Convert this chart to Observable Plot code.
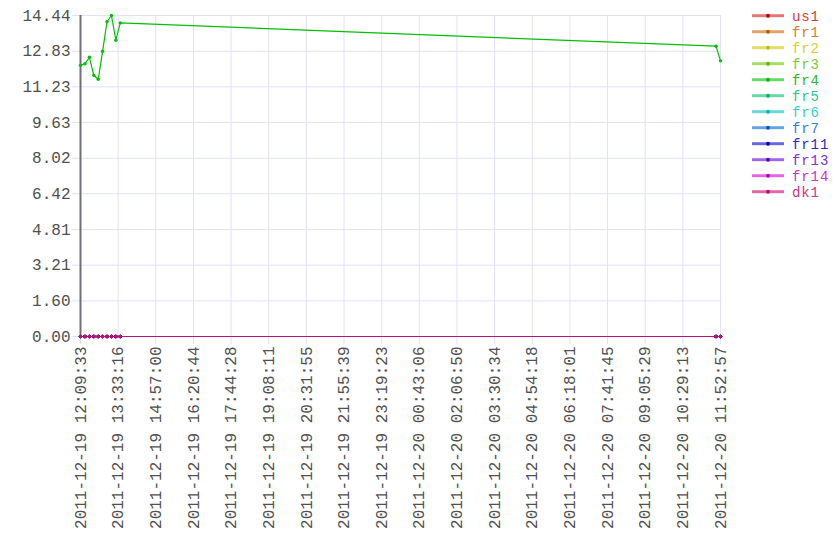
<!DOCTYPE html>
<html>
<head>
<meta charset="utf-8">
<script src="https://cdn.jsdelivr.net/npm/d3@7"></script>
<script src="https://cdn.jsdelivr.net/npm/@observablehq/plot@0.6"></script>
<style>
  html, body { margin: 0; padding: 0; background: #fff; }
  #wrap { position: relative; width: 840px; height: 560px; overflow: hidden; }
  #legend { position: absolute; left: 0; top: 0; }
</style>
</head>
<body>
<div id="wrap"></div>
<script>
// ---- data ----
const times = [
  "2011-12-19 12:09:33", "2011-12-19 12:19:30", "2011-12-19 12:29:20",
  "2011-12-19 12:39:10", "2011-12-19 12:49:00", "2011-12-19 12:58:40",
  "2011-12-19 13:08:30", "2011-12-19 13:18:20", "2011-12-19 13:28:10",
  "2011-12-19 13:38:00", "2011-12-20 11:42:57", "2011-12-20 11:52:57"
];
const seriesNames = ["us1", "fr1", "fr2", "fr3", "fr4", "fr5", "fr6", "fr7", "fr11", "fr13", "fr14", "dk1"];
const us1  = [0, 0, 0, 0, 0, 0, 0, 0, 0, 0, 0, 0];
const fr1  = [0, 0, 0, 0, 0, 0, 0, 0, 0, 0, 0, 0];
const fr2  = [0, 0, 0, 0, 0, 0, 0, 0, 0, 0, 0, 0];
const fr3  = [0, 0, 0, 0, 0, 0, 0, 0, 0, 0, 0, 0];
const fr4  = [12.20, 12.27, 12.56, 11.75, 11.57, 12.83, 14.16, 14.44, 13.33, 14.11, 13.06, 12.40];
const fr5  = [0, 0, 0, 0, 0, 0, 0, 0, 0, 0, 0, 0];
const fr6  = [0, 0, 0, 0, 0, 0, 0, 0, 0, 0, 0, 0];
const fr7  = [0, 0, 0, 0, 0, 0, 0, 0, 0, 0, 0, 0];
const fr11 = [0, 0, 0, 0, 0, 0, 0, 0, 0, 0, 0, 0];
const fr13 = [0, 0, 0, 0, 0, 0, 0, 0, 0, 0, 0, 0];
const fr14 = [0, 0, 0, 0, 0, 0, 0, 0, 0, 0, 0, 0];
const dk1  = [0, 0, 0, 0, 0, 0, 0, 0, 0, 0, 0, 0];
const seriesValues = [us1, fr1, fr2, fr3, fr4, fr5, fr6, fr7, fr11, fr13, fr14, dk1];

const lineColors = ["#c00000", "#c06000", "#c0c000", "#60c000", "#00c000", "#00c060",
                    "#00c0c0", "#0060c0", "#0000c0", "#6000c0", "#c000c0", "#b8127c"];
const textColors = ["#d83838", "#d08030", "#d0d030", "#80c830", "#28b828", "#28c888",
                    "#30d0d0", "#3080d0", "#2828c0", "#8030d0", "#c830d0", "#d03080"];
const legendLineColors = ["#e07878", "#e0a468", "#e0e068", "#a4e068", "#68d868", "#68d8a4",
                          "#68d8d8", "#68a4e0", "#6868d8", "#a468e0", "#e068e0", "#e068a4"];

const yTicks = [0, 1.60, 3.21, 4.81, 6.42, 8.02, 9.63, 11.23, 12.83, 14.44];
const xTickLabels = [
  "2011-12-19 12:09:33", "2011-12-19 13:33:16", "2011-12-19 14:57:00",
  "2011-12-19 16:20:44", "2011-12-19 17:44:28", "2011-12-19 19:08:11",
  "2011-12-19 20:31:55", "2011-12-19 21:55:39", "2011-12-19 23:19:23",
  "2011-12-20 00:43:06", "2011-12-20 02:06:50", "2011-12-20 03:30:34",
  "2011-12-20 04:54:18", "2011-12-20 06:18:01", "2011-12-20 07:41:45",
  "2011-12-20 09:05:29", "2011-12-20 10:29:13", "2011-12-20 11:52:57"
];

// ---- build ----
const parse = d3.utcParse("%Y-%m-%d %H:%M:%S");
const fmt = d3.utcFormat("%Y-%m-%d %H:%M:%S");
const tDates = times.map(parse);
const xTicks = xTickLabels.map(parse);
const xDomain = [tDates[0], tDates[tDates.length - 1]];

const gridColor = "#e0e0fc";
const labelColor = "#505050";
const marks = [
  Plot.gridX({ticks: xTicks, stroke: gridColor, strokeOpacity: 1, strokeWidth: 1}),
  Plot.gridY({ticks: yTicks, stroke: gridColor, strokeOpacity: 1, strokeWidth: 1}),
  Plot.axisX({ticks: xTicks, tickRotate: -90, tickSize: 8, tickPadding: 2,
              stroke: gridColor, fill: labelColor, tickFormat: fmt, label: null}),
  Plot.axisY({ticks: yTicks, tickSize: 8, tickPadding: 2,
              stroke: gridColor, fill: labelColor, tickFormat: d => d.toFixed(2), label: null}),
  Plot.ruleX([xDomain[0]], {stroke: "#707078", strokeWidth: 2}),
];

seriesNames.forEach((name, i) => {
  const rows = seriesValues[i].map((v, j) => ({t: tDates[j], v, s: name}));
  marks.push(Plot.line(rows, {x: "t", y: "v", stroke: lineColors[i], strokeWidth: 1.2}));
  marks.push(Plot.dot(rows, {x: "t", y: "v", fill: lineColors[i], r: 1.7}));
});

const chart = Plot.plot({
  width: 840,
  height: 560,
  marginLeft: 80,
  marginRight: 120,
  marginTop: 15,
  marginBottom: 224,
  style: {fontFamily: "'Liberation Mono', 'Courier New', monospace", fontSize: "16px", background: "#fff", color: labelColor},
  x: {type: "utc", domain: xDomain},
  y: {domain: [0, 14.44]},
  marks
});

const wrap = document.getElementById("wrap");
wrap.appendChild(chart);

// ---- legend ----
const legend = d3.create("svg")
  .attr("id", "legend")
  .attr("width", 840).attr("height", 560)
  .style("font-family", "'Liberation Mono', 'Courier New', monospace")
  .style("font-size", "14px")
  .style("letter-spacing", "0.9px");
seriesNames.forEach((name, i) => {
  const cy = 15.7 + i * 16;
  const g = legend.append("g");
  g.append("line").attr("x1", 752).attr("x2", 784).attr("y1", cy).attr("y2", cy)
    .attr("stroke", legendLineColors[i]).attr("stroke-width", 3);
  g.append("circle").attr("cx", 768).attr("cy", cy).attr("r", 2).attr("fill", lineColors[i]);
  g.append("text").attr("x", 792).attr("y", cy).attr("dy", "0.35em")
    .attr("fill", textColors[i]).text(name);
});
wrap.appendChild(legend.node());
</script>
</body>
</html>
